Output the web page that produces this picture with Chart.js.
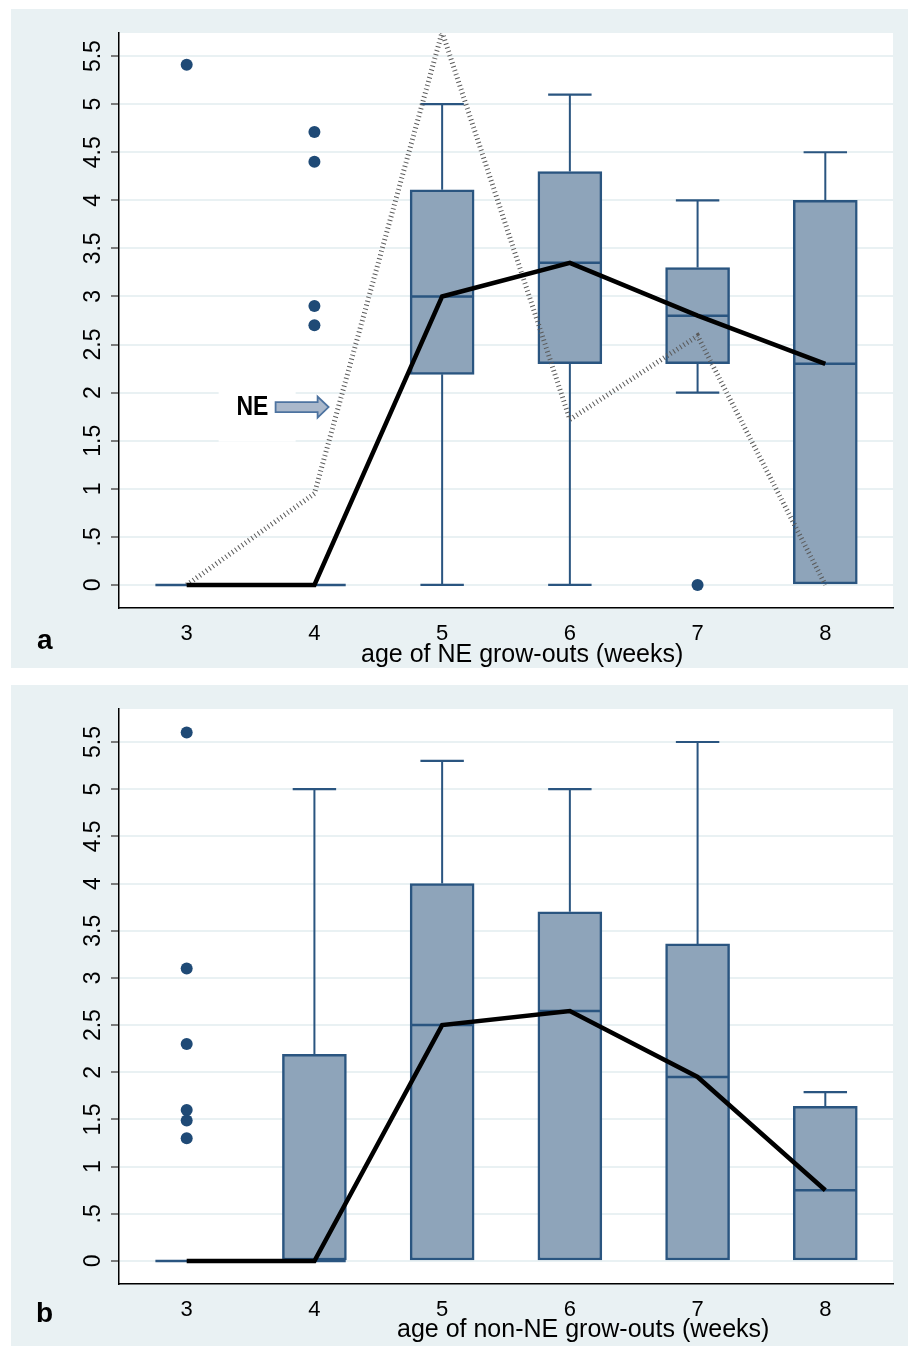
<!DOCTYPE html>
<html>
<head>
<meta charset="utf-8">
<script src="https://cdn.jsdelivr.net/npm/chart.js@4/dist/chart.umd.min.js"></script>
<style>
  html, body { margin:0; padding:0; background:#ffffff; }
  .panel { position:absolute; left:11px; width:897px; background:#e9f1f3; }
  canvas { display:block; }
</style>
</head>
<body>
<div class="panel" style="top:9px;height:659px;"><canvas id="ca" width="897" height="659"></canvas></div>
<div class="panel" style="top:685px;height:661px;"><canvas id="cb" width="897" height="661"></canvas></div>
<script>
// ---------- data ----------
const categories = [3, 4, 5, 6, 7, 8];
const xTickLabels = ['3', '4', '5', '6', '7', '8'];
const yTickValues = [0, 0.5, 1, 1.5, 2, 2.5, 3, 3.5, 4, 4.5, 5, 5.5];
const yTickLabels = ['0', '.5', '1', '1.5', '2', '2.5', '3', '3.5', '4', '4.5', '5', '5.5'];

// panel a: NE grow-outs
const aMin    = [0, 0, 0,    0,    2.0,  0];
const aQ1     = [0, 0, 2.19, 2.30, 2.30, 0];
const aMedian = [0, 0, 3.0,  3.35, 2.80, 2.30];
const aQ3     = [0, 0, 4.11, 4.30, 3.30, 4.0];
const aMax    = [0, 0, 5.0,  5.10, 4.0,  4.5];
const aOutX   = [3, 4, 4, 4, 4, 7];
const aOutY   = [5.41, 4.71, 4.40, 2.90, 2.70, 0];
const aNE     = [0, 0.95, 5.75, 1.72, 2.59, 0];

// panel b: non-NE grow-outs
const bMin    = [0, 0, 0,    0,    0,    0];
const bQ1     = [0, 0, 0,    0,    0,    0];
const bMedian = [0, 0, 2.50, 2.65, 1.95, 0.75];
const bQ3     = [0, 2.19, 4.0, 3.70, 3.36, 1.64];
const bMax    = [0, 5.0, 5.30, 5.0, 5.50, 1.79];
const bOutX   = [3, 3, 3, 3, 3, 3];
const bOutY   = [5.60, 3.10, 2.30, 1.60, 1.49, 1.30];

// ---------- styles ----------
const BOX_FILL = '#8ea4ba';
const BOX_LINE = '#2a5580';
const DOT = '#1f4a76';
const GRID = '#e9f1f3';
const BOX_HALF = 0.245;
const CAP_HALF = 0.17;

Chart.defaults.font.family = '"Liberation Sans", Arial, sans-serif';
Chart.defaults.color = '#000';

function boxDatasets(min, q1, med, q3, max, outX, outY) {
  const boxes = [], whisk = [], caps = [], meds = [];
  categories.forEach((c, i) => {
    if (q3[i] > q1[i]) boxes.push({x: c, y: [q1[i], q3[i]]});
    if (max[i] > q3[i]) {
      whisk.push({x: c, y: q3[i]}, {x: c, y: max[i]}, {x: c, y: null});
      caps.push({x: c - CAP_HALF, y: max[i]}, {x: c + CAP_HALF, y: max[i]}, {x: c, y: null});
    }
    if (min[i] < q1[i]) {
      whisk.push({x: c, y: q1[i]}, {x: c, y: min[i]}, {x: c, y: null});
      caps.push({x: c - CAP_HALF, y: min[i]}, {x: c + CAP_HALF, y: min[i]}, {x: c, y: null});
    }
    meds.push({x: c - BOX_HALF, y: med[i]}, {x: c + BOX_HALF, y: med[i]}, {x: c, y: null});
  });
  const seg = (data, w, order) => ({
    type: 'scatter', data, showLine: true, spanGaps: false, borderColor: BOX_LINE,
    borderWidth: w, pointRadius: 0, order, clip: false
  });
  return [
    { type: 'bar', data: boxes, backgroundColor: BOX_FILL, borderColor: BOX_LINE,
      borderWidth: 2.5, borderSkipped: false, barThickness: 64, order: 10 },
    seg(whisk, 2, 8),
    seg(caps, 2.2, 7),
    seg(meds, 2.5, 6),
    { type: 'scatter', data: outX.map((x, i) => ({x, y: outY[i]})), pointRadius: 6,
      pointBackgroundColor: DOT, pointBorderWidth: 0, order: 5 },
    { type: 'scatter', data: categories.map((c, i) => ({x: c, y: med[i]})), showLine: true,
      borderColor: '#000', borderWidth: 4.5, pointRadius: 0, order: 1 }
  ];
}

const textPlugin = {
  id: 'panelText',
  beforeDraw(chart) {
    const {ctx, chartArea: a} = chart;
    ctx.save();
    ctx.fillStyle = '#ffffff';
    ctx.fillRect(a.left, a.top, a.right - a.left, a.bottom - a.top);
    ctx.restore();
  },
  beforeDatasetsDraw(chart, args, opts) {
    if (!opts.ne) return;
    const {ctx} = chart;
    const xs = chart.scales.x, ys = chart.scales.y;
    const x0 = xs.getPixelForValue(3.25), x1 = xs.getPixelForValue(3.853);
    const y0 = ys.getPixelForValue(2.01), y1 = ys.getPixelForValue(1.49);
    ctx.save();
    ctx.fillStyle = '#ffffff';
    ctx.fillRect(x0, y0, x1 - x0, y1 - y0);
    ctx.restore();
  },
  afterDraw(chart, args, opts) {
    const {ctx} = chart;
    ctx.save();
    ctx.fillStyle = '#000';
    ctx.textBaseline = 'alphabetic';
    ctx.textAlign = 'left';
    ctx.font = 'bold 28px "Liberation Sans", Arial, sans-serif';
    ctx.fillText(opts.letter, opts.letterX, opts.letterY);
    ctx.font = '25px "Liberation Sans", Arial, sans-serif';
    ctx.fillText(opts.title, opts.titleX, opts.titleY);
    if (opts.ne) {
      const xs = chart.scales.x, ys = chart.scales.y;
      const tx = xs.getPixelForValue(3.39), ty = ys.getPixelForValue(1.767);
      ctx.save();
      ctx.translate(tx, ty);
      ctx.scale(1, 1.2);
      ctx.font = 'bold 23px "Liberation Sans", Arial, sans-serif';
      ctx.fillText('NE', 0, 0);
      ctx.restore();
      const ax0 = xs.getPixelForValue(3.696), axh = xs.getPixelForValue(4.025), axt = xs.getPixelForValue(4.111);
      const ay = ys.getPixelForValue(1.85);
      ctx.beginPath();
      ctx.moveTo(ax0, ay - 5);
      ctx.lineTo(axh, ay - 5);
      ctx.lineTo(axh, ay - 10.5);
      ctx.lineTo(axt, ay);
      ctx.lineTo(axh, ay + 10.5);
      ctx.lineTo(axh, ay + 5);
      ctx.lineTo(ax0, ay + 5);
      ctx.closePath();
      ctx.fillStyle = '#aab8cb';
      ctx.fill();
      ctx.strokeStyle = '#4d73a0';
      ctx.lineWidth = 1.8;
      ctx.stroke();
    }
    ctx.restore();
  }
};

function makeChart(id, datasets, yMin, yMax, bottomH, textOpts) {
  return new Chart(document.getElementById(id), {
    type: 'scatter',
    data: { datasets },
    plugins: [textPlugin],
    options: {
      responsive: false,
      animation: false,
      devicePixelRatio: 1,
      layout: { padding: { top: 24, right: 15, left: 0, bottom: 0 } },
      plugins: { legend: { display: false }, tooltip: { enabled: false }, panelText: textOpts },
      scales: {
        x: {
          type: 'linear', min: 2.47, max: 8.53, offset: false,
          afterBuildTicks: s => { s.ticks = categories.map(v => ({value: v})); },
          afterFit: s => { s.height = bottomH; },
          grid: { display: false },
          border: { display: true, color: '#000', width: 1.5 },
          ticks: { padding: 5, font: { size: 22 }, color: '#000', maxRotation: 0, autoSkip: false,
                   callback: v => xTickLabels[categories.indexOf(v)] }
        },
        y: {
          type: 'linear', min: yMin, max: yMax,
          afterBuildTicks: s => { s.ticks = yTickValues.map(v => ({value: v})); },
          afterFit: s => { s.width = 108; },
          grid: { color: GRID, lineWidth: 2, tickColor: '#555', tickLength: 8, tickWidth: 1.5 },
          border: { display: true, color: '#000', width: 1.5 },
          ticks: { minRotation: 90, maxRotation: 90, crossAlign: 'center', padding: 1, autoSkip: false,
                   font: { size: 23 }, color: '#000',
                   callback: v => yTickLabels[yTickValues.indexOf(v)] }
        }
      }
    }
  });
}

const dsA = boxDatasets(aMin, aQ1, aMedian, aQ3, aMax, aOutX, aOutY);
dsA.push({ type: 'scatter', data: categories.map((c, i) => ({x: c, y: aNE[i]})), showLine: true,
  borderColor: '#5a5a5a', borderWidth: 5, borderDash: [1, 3], pointRadius: 0, order: 2 });
makeChart('ca', dsA, -0.24, 5.74, 60,
  { letter: 'a', letterX: 26, letterY: 640, title: 'age of NE grow-outs (weeks)', titleX: 350, titleY: 653, ne: true });

const dsB = boxDatasets(bMin, bQ1, bMedian, bQ3, bMax, bOutX, bOutY);
makeChart('cb', dsB, -0.244, 5.85, 62,
  { letter: 'b', letterX: 25, letterY: 637, title: 'age of non-NE grow-outs (weeks)', titleX: 386, titleY: 652, ne: false });
</script>
</body>
</html>
